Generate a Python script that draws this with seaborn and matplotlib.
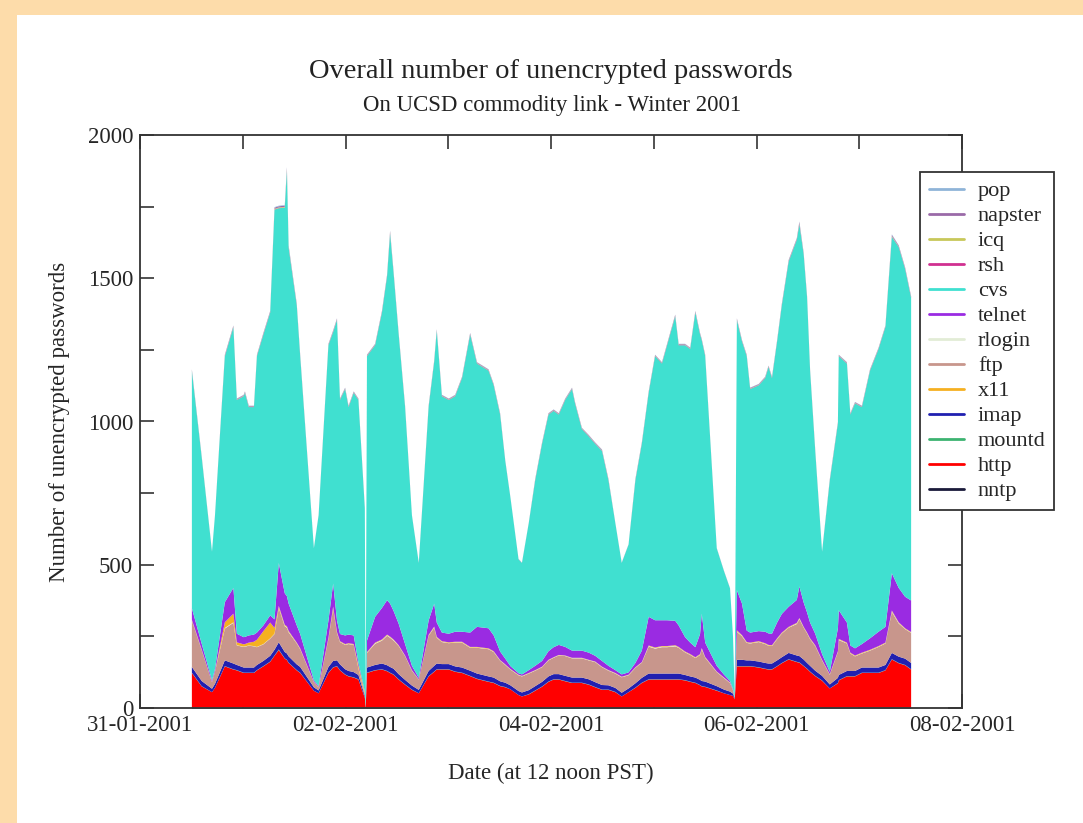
import numpy as np
import pandas as pd
import matplotlib
matplotlib.use("Agg")
import matplotlib.pyplot as plt
import matplotlib.dates as mdates
from matplotlib.lines import Line2D
from matplotlib.patches import Rectangle
from matplotlib.ticker import MultipleLocator
import seaborn as sns

# Sample times, in hours after 31-01-2001 12:00 PST
hours = [
    0.0, 2.3, 4.7, 5.4, 7.7, 9.7, 10.5, 12.1, 12.4, 13.3,
    14.5, 15.2, 16.7, 18.3, 19.3, 20.3, 21.7, 22.2, 22.6, 24.5,
    25.3, 28.5, 29.6, 31.9, 33.0, 33.9, 34.6, 35.8, 36.6, 37.8,
    38.9, 40.4, 40.6, 40.9, 42.8, 44.4, 45.6, 46.3, 47.1, 48.3,
    49.8, 51.4, 53.0, 55.3, 56.6, 57.2, 58.4, 60.0, 61.5, 63.1,
    65.0, 66.6, 69.3, 70.5, 72.0, 73.2, 74.4, 76.3, 77.1, 78.7,
    80.2, 81.8, 83.3, 84.5, 85.7, 87.2, 88.8, 89.5, 91.1, 92.7,
    94.2, 95.8, 97.3, 98.9, 100.4, 102.0, 103.6, 105.1, 106.7, 108.2,
    109.8, 111.0, 112.9, 113.7, 115.2, 116.4, 117.6, 118.7, 119.1, 119.9,
    122.6, 124.3, 125.7, 126.4, 126.8, 127.3, 128.5, 129.6, 130.4, 132.4,
    133.9, 134.7, 135.5, 136.7, 137.8, 139.4, 141.3, 141.9, 142.9, 143.7,
    144.4, 145.6, 147.2, 149.0, 150.9, 151.1, 153.0, 153.8, 154.9, 156.5,
    158.4, 160.4, 162.0, 163.5, 165.1, 166.6, 168.0,
]

# Overall number of unencrypted passwords (all protocols)
total = [
    1184, 880, 548, 675, 1235, 1337, 1082, 1095, 1107, 1057,
    1057, 1235, 1311, 1388, 1750, 1755, 1757, 1890, 1617, 1413,
    1235, 560, 675, 1273, 1320, 1362, 1082, 1120, 1057, 1107,
    1082, 700, 0, 1235, 1273, 1388, 1515, 1668, 1528, 1311,
    1057, 675, 509, 1057, 1215, 1324, 1095, 1082, 1095, 1158,
    1311, 1209, 1184, 1133, 1031, 866, 738, 522, 509, 649,
    802, 929, 1031, 1044, 1031, 1082, 1120, 1070, 980, 955,
    929, 904, 802, 649, 509, 573, 802, 929, 1107, 1235,
    1209, 1273, 1375, 1273, 1273, 1260, 1388, 1311, 1290, 1235,
    560, 480, 420, 250, 45, 1362, 1286, 1235, 1120, 1133,
    1158, 1197, 1158, 1286, 1413, 1566, 1642, 1700, 1591, 1439,
    1184, 904, 548, 800, 1000, 1235, 1209, 1031, 1070, 1057,
    1184, 1260, 1337, 1655, 1617, 1540, 1439,
]

http = [
    121, 74, 55, 70, 144, 133, 130, 121, 121, 121,
    121, 130, 144, 160, 180, 200, 170, 165, 156, 130,
    121, 60, 51, 121, 140, 144, 130, 115, 109, 105,
    98, 35, 0, 121, 130, 133, 127, 121, 115, 98,
    80, 63, 51, 109, 125, 133, 133, 133, 125, 121,
    110, 100, 90, 86, 76, 72, 65, 45, 40, 47,
    60, 74, 90, 98, 98, 92, 86, 86, 86, 80,
    72, 63, 63, 55, 40, 55, 70, 86, 98, 98,
    98, 98, 98, 98, 95, 90, 86, 78, 74, 72,
    60, 51, 45, 42, 30, 144, 144, 144, 144, 140,
    135, 133, 133, 144, 155, 167, 158, 156, 145, 135,
    125, 110, 95, 68, 85, 95, 109, 109, 109, 121,
    121, 121, 130, 167, 155, 148, 133,
]

imap = [
    20, 18, 12, 14, 20, 20, 18, 18, 18, 18,
    18, 18, 18, 20, 20, 25, 22, 22, 22, 20,
    20, 12, 10, 20, 22, 20, 20, 18, 18, 18,
    15, 6, 0, 18, 18, 20, 20, 20, 20, 18,
    16, 14, 12, 18, 20, 20, 18, 18, 18, 18,
    18, 18, 18, 18, 16, 15, 14, 14, 14, 14,
    15, 16, 18, 18, 18, 18, 18, 18, 18, 18,
    17, 16, 15, 14, 13, 13, 15, 17, 20, 20,
    20, 20, 20, 20, 18, 18, 18, 18, 18, 18,
    15, 13, 12, 8, 3, 22, 22, 20, 20, 20,
    20, 20, 20, 20, 20, 22, 22, 22, 22, 20,
    20, 18, 16, 14, 18, 18, 18, 18, 18, 18,
    18, 18, 18, 22, 22, 22, 22,
]

x11 = [
    2, 1, 0, 0, 20, 30, 10, 8, 8, 10,
    15, 25, 45, 55, 20, 5, 3, 3, 3, 2,
    2, 0, 0, 3, 5, 3, 2, 2, 2, 2,
    10, 5, 0, 2, 2, 2, 2, 2, 2, 2,
    1, 1, 0, 2, 2, 2, 2, 2, 2, 2,
    2, 2, 2, 2, 1, 1, 1, 1, 1, 1,
    1, 1, 1, 1, 1, 1, 1, 1, 1, 1,
    1, 1, 1, 1, 1, 1, 1, 1, 2, 2,
    2, 2, 2, 2, 2, 2, 2, 2, 2, 2,
    1, 1, 1, 0, 0, 3, 2, 2, 2, 2,
    2, 2, 2, 2, 2, 2, 2, 2, 2, 2,
    2, 2, 1, 1, 2, 2, 2, 2, 2, 2,
    2, 2, 2, 3, 2, 2, 2,
]

ftp = [
    162, 108, 23, 43, 111, 142, 68, 72, 73, 76,
    74, 62, 58, 60, 55, 120, 90, 90, 84, 73,
    62, 18, 11, 98, 183, 95, 78, 85, 94, 95,
    22, 7, 0, 51, 74, 80, 103, 102, 98, 98,
    83, 52, 36, 123, 133, 90, 77, 73, 83, 87,
    80, 90, 95, 89, 72, 62, 55, 55, 56, 58,
    54, 51, 56, 57, 65, 69, 67, 67, 67, 66,
    70, 62, 51, 50, 54, 46, 54, 53, 94, 87,
    92, 92, 95, 90, 79, 75, 68, 87, 111, 83,
    49, 40, 30, 12, 1, 98, 82, 61, 59, 68,
    66, 62, 61, 74, 83, 88, 110, 129, 111, 103,
    93, 86, 54, 34, 90, 122, 96, 61, 51, 49,
    59, 72, 75, 143, 116, 103, 105,
]

telnet = [
    40, 20, 5, 8, 70, 90, 30, 25, 25, 25,
    25, 25, 20, 25, 30, 150, 110, 105, 95, 60,
    50, 5, 3, 60, 80, 40, 25, 30, 30, 30,
    10, 2, 0, 40, 90, 110, 120, 115, 100, 75,
    40, 15, 5, 50, 80, 50, 30, 30, 35, 35,
    50, 70, 70, 55, 30, 20, 10, 5, 5, 10,
    15, 20, 30, 35, 35, 30, 25, 25, 25, 25,
    20, 20, 15, 10, 8, 8, 15, 40, 100, 95,
    90, 90, 85, 75, 50, 40, 35, 70, 120, 50,
    20, 10, 5, 3, 0, 140, 110, 40, 35, 35,
    40, 40, 40, 55, 65, 70, 80, 110, 85, 70,
    55, 40, 20, 8, 80, 100, 70, 25, 25, 30,
    40, 50, 55, 130, 120, 110, 110,
]

nntp = [
    3, 3, 2, 2, 3, 3, 3, 3, 3, 3,
    3, 3, 3, 3, 4, 4, 4, 4, 3, 3,
    3, 2, 2, 3, 3, 3, 3, 3, 3, 3,
    3, 2, 0, 3, 3, 3, 3, 3, 3, 3,
    3, 2, 2, 3, 3, 3, 3, 3, 3, 3,
    3, 3, 3, 3, 2, 2, 2, 2, 2, 2,
    2, 2, 3, 3, 3, 3, 3, 3, 3, 3,
    2, 2, 2, 2, 2, 2, 2, 3, 3, 3,
    3, 3, 3, 3, 3, 3, 3, 3, 3, 3,
    2, 2, 2, 2, 2, 3, 3, 3, 3, 3,
    3, 3, 3, 3, 3, 4, 4, 4, 3, 3,
    3, 3, 2, 2, 3, 3, 3, 3, 3, 3,
    3, 3, 3, 4, 3, 3, 3,
]

mountd = [
    1, 1, 0, 0, 1, 1, 1, 1, 1, 1,
    1, 1, 1, 1, 1, 2, 1, 1, 1, 1,
    1, 0, 0, 1, 1, 1, 1, 1, 1, 1,
    1, 1, 0, 1, 1, 1, 1, 1, 1, 1,
    1, 1, 0, 1, 1, 1, 1, 1, 1, 1,
    1, 1, 1, 1, 1, 1, 0, 0, 0, 1,
    1, 1, 1, 1, 1, 1, 1, 1, 1, 1,
    1, 1, 1, 1, 0, 0, 1, 1, 1, 1,
    1, 1, 1, 1, 1, 1, 1, 1, 1, 1,
    1, 0, 0, 0, 1, 1, 1, 1, 1, 1,
    1, 1, 1, 1, 1, 1, 1, 1, 1, 1,
    1, 1, 1, 0, 1, 1, 1, 1, 1, 1,
    1, 1, 1, 1, 1, 1, 1,
]

rlogin = [
    1, 1, 1, 1, 2, 2, 1, 1, 1, 1,
    1, 1, 1, 1, 1, 2, 2, 2, 2, 1,
    1, 1, 1, 1, 2, 1, 1, 1, 1, 1,
    1, 1, 0, 1, 2, 2, 2, 2, 2, 1,
    1, 1, 1, 1, 2, 1, 1, 1, 1, 1,
    1, 1, 1, 1, 1, 1, 1, 1, 1, 1,
    1, 1, 1, 1, 1, 1, 1, 1, 1, 1,
    1, 1, 1, 1, 1, 1, 1, 1, 2, 2,
    2, 2, 2, 1, 1, 1, 1, 1, 2, 1,
    1, 1, 1, 1, 1, 2, 2, 1, 1, 1,
    1, 1, 1, 1, 1, 1, 2, 2, 1, 1,
    1, 1, 1, 1, 1, 2, 1, 1, 1, 1,
    1, 1, 1, 2, 2, 1, 1,
]

rsh = [
    1, 0, 0, 0, 1, 1, 1, 1, 1, 1,
    1, 1, 1, 1, 1, 1, 1, 2, 1, 1,
    1, 0, 0, 1, 1, 1, 1, 1, 1, 1,
    1, 1, 0, 1, 1, 1, 1, 2, 1, 1,
    1, 0, 0, 1, 1, 1, 1, 1, 1, 1,
    1, 1, 1, 1, 1, 1, 0, 0, 0, 0,
    1, 1, 1, 1, 1, 1, 1, 1, 1, 1,
    1, 1, 1, 0, 0, 0, 1, 1, 1, 1,
    1, 1, 1, 1, 1, 1, 1, 1, 1, 1,
    0, 0, 0, 0, 0, 1, 1, 1, 1, 1,
    1, 1, 1, 1, 1, 1, 1, 2, 1, 1,
    1, 1, 0, 1, 1, 1, 1, 1, 1, 1,
    1, 1, 1, 1, 1, 1, 1,
]

icq = [
    1, 1, 0, 0, 1, 1, 1, 1, 1, 1,
    1, 1, 1, 1, 2, 2, 2, 3, 2, 1,
    1, 0, 0, 1, 1, 1, 1, 1, 1, 1,
    1, 0, 0, 1, 1, 1, 1, 2, 1, 1,
    1, 0, 0, 1, 1, 1, 1, 1, 1, 1,
    1, 1, 1, 1, 1, 0, 0, 0, 0, 0,
    1, 1, 1, 1, 1, 1, 1, 1, 1, 1,
    1, 1, 1, 0, 0, 0, 1, 1, 1, 1,
    1, 1, 1, 1, 1, 1, 1, 1, 1, 1,
    0, 0, 0, 0, 0, 1, 1, 1, 1, 1,
    1, 1, 1, 1, 1, 1, 1, 2, 1, 1,
    1, 1, 0, 1, 1, 1, 1, 1, 1, 1,
    1, 1, 1, 2, 1, 1, 1,
]

napster = [
    3, 2, 1, 1, 3, 3, 2, 2, 2, 2,
    2, 2, 3, 3, 4, 4, 4, 6, 4, 3,
    3, 1, 1, 2, 3, 3, 2, 2, 2, 2,
    2, 1, 0, 2, 2, 3, 3, 4, 3, 2,
    2, 1, 1, 2, 2, 3, 2, 2, 2, 2,
    3, 2, 2, 2, 2, 1, 1, 1, 1, 1,
    2, 2, 2, 2, 2, 2, 2, 2, 2, 2,
    2, 2, 2, 1, 1, 1, 2, 2, 2, 2,
    2, 2, 3, 2, 2, 2, 3, 2, 2, 2,
    1, 1, 1, 1, 1, 3, 2, 2, 2, 2,
    2, 2, 2, 2, 3, 3, 3, 4, 3, 3,
    2, 2, 1, 2, 2, 2, 2, 2, 2, 2,
    2, 2, 2, 4, 3, 3, 3,
]

pop = [
    1, 1, 0, 0, 1, 1, 1, 1, 1, 1,
    1, 1, 1, 1, 2, 2, 2, 3, 2, 1,
    1, 0, 0, 1, 1, 1, 1, 1, 1, 1,
    1, 0, 0, 1, 1, 1, 1, 2, 1, 1,
    1, 0, 0, 1, 1, 1, 1, 1, 1, 1,
    1, 1, 1, 1, 1, 0, 0, 0, 0, 0,
    1, 1, 1, 1, 1, 1, 1, 1, 1, 1,
    1, 1, 1, 0, 0, 0, 1, 1, 1, 1,
    1, 1, 1, 1, 1, 1, 1, 1, 1, 1,
    0, 0, 0, 0, 0, 1, 1, 1, 1, 1,
    1, 1, 1, 1, 1, 1, 1, 2, 1, 1,
    1, 1, 0, 1, 1, 1, 1, 1, 1, 1,
    1, 1, 1, 2, 1, 1, 1,
]

legend_order = ["pop", "napster", "icq", "rsh", "cvs", "telnet", "rlogin",
                "ftp", "x11", "imap", "mountd", "http", "nntp"]
stack_order = ["nntp", "http", "mountd", "imap", "ftp", "rlogin", "x11",
               "telnet", "cvs", "rsh", "icq", "napster", "pop"]

colors = {
    "pop": "#8fb4d8", "napster": "#9a6aa8", "icq": "#c8c85a", "rsh": "#d03090",
    "cvs": "#40e0d0", "telnet": "#9a2be2", "rlogin": "#e2ecd6", "ftp": "#c8968c",
    "x11": "#f5b021", "imap": "#2020b0", "mountd": "#3cb371", "http": "#ff0000",
    "nntp": "#1a1a3a",
}

df = pd.DataFrame({
    "time": pd.Timestamp("2001-01-31 12:00") + pd.to_timedelta(hours, unit="h"),
    "total": total, "http": http, "imap": imap, "x11": x11, "ftp": ftp,
    "telnet": telnet, "nntp": nntp, "mountd": mountd, "rlogin": rlogin,
    "rsh": rsh, "icq": icq, "napster": napster, "pop": pop,
})
others = [c for c in stack_order if c != "cvs"]
df["cvs"] = np.maximum(df["total"] - df[others].sum(axis=1), 0)

sns.set_theme(style="ticks")
plt.rcParams["font.family"] = ["Liberation Serif", "DejaVu Serif"]
plt.rcParams["axes.linewidth"] = 1.3

W, H = 1083, 823
fig = plt.figure(figsize=(W / 100, H / 100), dpi=100, facecolor="#fddcaa")
fig.patches.append(Rectangle((17 / W, 0), 1, 1 - 15 / H, transform=fig.transFigure,
                             facecolor="white", edgecolor="none", zorder=-10))

ax = fig.add_axes([140 / W, 1 - 708 / H, 822 / W, 573 / H])
ax.set_facecolor("white")

x = mdates.date2num(df["time"])
ax.stackplot(x, *[df[c].to_numpy() for c in stack_order],
             colors=[colors[c] for c in stack_order], linewidth=0)

ax.set_xlim(mdates.date2num(pd.Timestamp("2001-01-31")),
            mdates.date2num(pd.Timestamp("2001-02-08")))
ax.set_ylim(0, 2000)

major_days = pd.date_range("2001-01-31", "2001-02-08", freq="2D")
ax.set_xticks(mdates.date2num(major_days))
ax.set_xticklabels([d.strftime("%d-%m-%Y") for d in major_days])
ax.xaxis.set_minor_locator(mdates.DayLocator())
ax.set_yticks([0, 500, 1000, 1500, 2000])
ax.yaxis.set_minor_locator(MultipleLocator(250))
ax.tick_params(which="both", direction="in", top=True, right=True,
               width=1.2, color="#333333", labelsize=16.5, pad=5)
ax.tick_params(which="major", length=10)
ax.tick_params(which="minor", length=10)
for s in ax.spines.values():
    s.set_color("#333333")

ax.set_xlabel("Date (at 12 noon PST)", fontsize=16.5)
ax.xaxis.set_label_coords(0.5, (708 - 773) / 573)
ax.xaxis.label.set_va("center")
ax.set_ylabel("Number of unencrypted passwords", fontsize=16.5)
ax.yaxis.set_label_coords((60 - 140) / 822, (708 - 422) / 573)
ax.yaxis.label.set_va("center")

fig.text(551 / W, 1 - 72 / H, "Overall number of unencrypted passwords",
         ha="center", va="center", fontsize=20.5, color="#222222")
fig.text(552 / W, 1 - 105 / H, "On UCSD commodity link - Winter 2001",
         ha="center", va="center", fontsize=16.5, color="#222222")

handles = [Line2D([0], [0], color=colors[n], lw=2) for n in legend_order]
leg = fig.legend(handles, legend_order, loc="upper left",
                 bbox_to_anchor=(920 / W, 1 - 172 / H), frameon=True,
                 fancybox=False, edgecolor="#333333", framealpha=1,
                 fontsize=16, handlelength=1.6, handletextpad=0.6,
                 labelspacing=0.2, borderpad=0.4, borderaxespad=0)
leg.get_frame().set_linewidth(1.3)

fig.savefig("out.png", dpi=100, facecolor=fig.get_facecolor())
